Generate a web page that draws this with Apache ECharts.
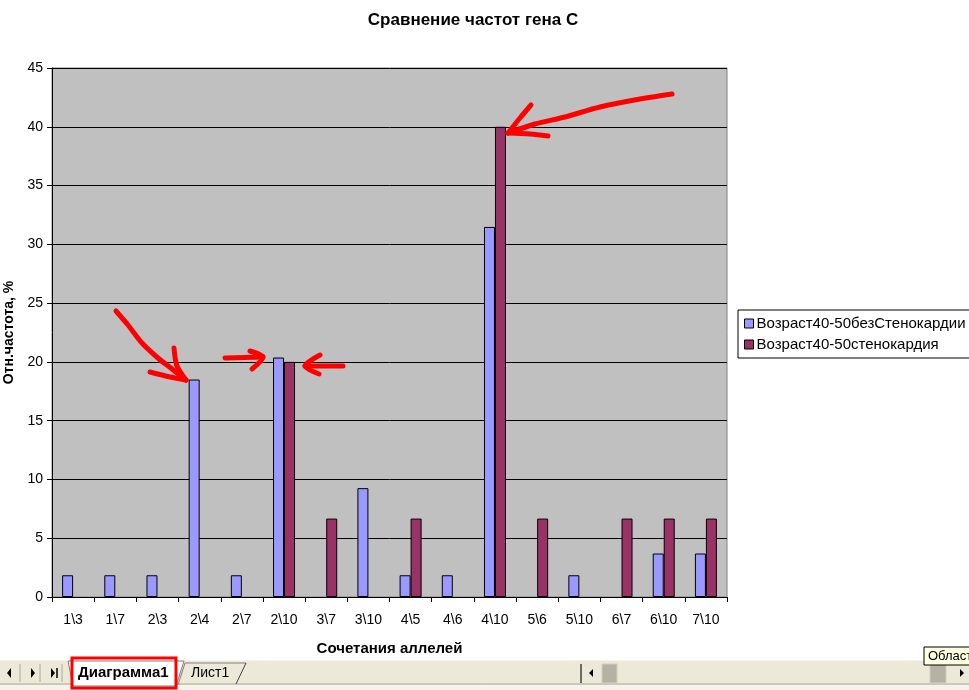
<!DOCTYPE html>
<html>
<head>
<meta charset="utf-8">
<script src="https://cdn.jsdelivr.net/npm/echarts@6/dist/echarts.min.js"></script>
<style>html,body{margin:0;padding:0;background:#fff;}#c{width:969px;height:690px;}</style>
</head>
<body>
<div id="c"></div>
<script>
const categories = ['1\\3','1\\7','2\\3','2\\4','2\\7','2\\10','3\\7','3\\10','4\\5','4\\6','4\\10','5\\6','5\\10','6\\7','6\\10','7\\10'];
const seriesNames = ['Возраст40-50безСтенокардии', 'Возраст40-50стенокардия'];
const noAngina = [1.85, 1.85, 1.85, 18.5, 1.85, 20.37, 0, 9.26, 1.85, 1.85, 31.48, 0, 1.85, 0, 3.7, 3.7];
const angina   = [0, 0, 0, 0, 0, 20, 6.67, 0, 6.67, 0, 40, 6.67, 0, 6.67, 6.67, 6.67];
const yTicks = {min: 0, max: 45, interval: 5};

const FONT = '"Liberation Sans", Arial, sans-serif';
const chart = echarts.init(document.getElementById('c'));

// zero-height bars are not drawn in the original (no outline)
const hideZero = arr => arr.map(v => v === 0 ? null : v);

function stroke(points) {
  return {type: 'polyline', shape: {points: points, smooth: 0.3},
    style: {stroke: '#ff0000', lineWidth: 5, fill: null, lineCap: 'round', lineJoin: 'round'}, z: 100};
}

chart.setOption({
  backgroundColor: '#ffffff',
  animation: false,
  title: {
    text: 'Сравнение частот гена С',
    left: 468, top: 7, textAlign: 'center',
    textStyle: {fontFamily: FONT, fontSize: 17, fontWeight: 'bold', color: '#000'}
  },
  legend: {
    orient: 'vertical', left: 738, top: 310,
    data: seriesNames,
    itemWidth: 9, itemHeight: 9, itemGap: 6,
    icon: 'rect',
    borderColor: '#000', borderWidth: 1, borderRadius: 0,
    padding: [6, 4, 6, 6],
    backgroundColor: '#fff',
    textStyle: {fontFamily: FONT, fontSize: 15, color: '#000', padding: [0, 0, 0, -2]},
    itemStyle: {borderColor: '#000', borderWidth: 1}
  },
  grid: {
    left: 52, right: 242, top: 68, bottom: 93,
    outerBoundsMode: 'none', containLabel: false,
    show: true, backgroundColor: '#c0c0c0', borderColor: '#808080', borderWidth: 1
  },
  xAxis: {
    type: 'category', data: categories,
    name: 'Сочетания аллелей', nameLocation: 'middle', nameGap: 44,
    nameTextStyle: {fontFamily: FONT, fontSize: 15, fontWeight: 'bold', color: '#000'},
    axisLine: {lineStyle: {color: '#000', width: 1}},
    axisTick: {show: true, alignWithLabel: false, length: 5, lineStyle: {color: '#000'}},
    axisLabel: {fontFamily: FONT, fontSize: 14, color: '#000', margin: 16, interval: 0}
  },
  yAxis: {
    type: 'value', min: yTicks.min, max: yTicks.max, interval: yTicks.interval,
    name: 'Отн.частота, %', nameLocation: 'middle', nameGap: 34, nameRotate: 90,
    nameTextStyle: {fontFamily: FONT, fontSize: 14, fontWeight: 'bold', color: '#000'},
    axisLine: {show: true, lineStyle: {color: '#000', width: 1}},
    axisTick: {show: true, length: 5, lineStyle: {color: '#000'}},
    axisLabel: {fontFamily: FONT, fontSize: 14, color: '#000', margin: 9},
    splitLine: {show: true, lineStyle: {color: '#000', width: 1}}
  },
  series: [
    {name: seriesNames[0], type: 'bar', data: hideZero(noAngina), barWidth: 11, barGap: '0%',
      itemStyle: {color: '#9999ff', borderColor: '#000', borderWidth: 1}},
    {name: seriesNames[1], type: 'bar', data: hideZero(angina), barWidth: 11, barGap: '0%',
      itemStyle: {color: '#993366', borderColor: '#000', borderWidth: 1}}
  ],
  graphic: [
    // hand-drawn red annotations
    stroke([[116,311],[128,325],[142,343],[158,358],[172,369],[186,380]]),
    stroke([[174,348],[177,366],[186,380]]),
    stroke([[150,372],[170,377],[186,380]]),
    stroke([[225,358],[263,357]]),
    stroke([[250,351],[263,357],[252,369]]),
    stroke([[343,366],[305,366]]),
    stroke([[320,355],[305,366],[319,374]]),
    stroke([[672,94],[640,99],[600,107],[565,117],[535,124],[508,133]]),
    stroke([[531,105],[520,118],[508,133]]),
    stroke([[548,136],[530,134],[508,133]]),
    // Excel sheet tab bar
    {type: 'rect', shape: {x: 0, y: 660, width: 969, height: 30}, style: {fill: '#ece9d8'}, z: 50},
    {type: 'line', shape: {x1: 0, y1: 660, x2: 969, y2: 660}, style: {stroke: '#ffffff', lineWidth: 1}, z: 51},
    {type: 'line', shape: {x1: 0, y1: 684, x2: 969, y2: 684}, style: {stroke: '#aca899', lineWidth: 1}, z: 51},
    {type: 'rect', shape: {x: 0, y: 685, width: 969, height: 5}, style: {fill: '#f5f3ea'}, z: 51},
    {type: 'polygon', shape: {points: [[11,668],[11,678],[7,673]]}, style: {fill: '#000'}, z: 52},
    {type: 'polygon', shape: {points: [[31,668],[31,678],[35,673]]}, style: {fill: '#000'}, z: 52},
    {type: 'polygon', shape: {points: [[51,668],[51,678],[55,673]]}, style: {fill: '#000'}, z: 52},
    {type: 'line', shape: {x1: 57, y1: 668, x2: 57, y2: 678}, style: {stroke: '#000', lineWidth: 1.5}, z: 52},
    {type: 'line', shape: {x1: 20, y1: 664, x2: 20, y2: 682}, style: {stroke: '#aca899', lineWidth: 1}, z: 52},
    {type: 'line', shape: {x1: 40, y1: 664, x2: 40, y2: 682}, style: {stroke: '#aca899', lineWidth: 1}, z: 52},
    {type: 'line', shape: {x1: 62, y1: 664, x2: 62, y2: 682}, style: {stroke: '#aca899', lineWidth: 1}, z: 52},
    {type: 'polygon', shape: {points: [[68,661],[73,686],[176,686],[184,661]]}, style: {fill: '#ffffff', stroke: '#808080', lineWidth: 1}, z: 52},
    {type: 'text', x: 78, y: 665, style: {text: 'Диаграмма1', font: 'bold 15px ' + FONT, fill: '#000'}, z: 53},
    {type: 'polyline', shape: {points: [[178,685],[185,663],[246,663]]}, style: {stroke: '#808080', fill: null, lineWidth: 1}, z: 52},
    {type: 'line', shape: {x1: 236, y1: 684, x2: 246, y2: 663}, style: {stroke: '#404040', lineWidth: 1}, z: 52},
    {type: 'text', x: 191, y: 666, style: {text: 'Лист1', font: '14px ' + FONT, fill: '#000'}, z: 53},
    {type: 'rect', shape: {x: 72, y: 658, width: 104, height: 30}, style: {fill: null, stroke: '#ff0000', lineWidth: 3}, z: 60},
    {type: 'line', shape: {x1: 581, y1: 664, x2: 581, y2: 683}, style: {stroke: '#404040', lineWidth: 1.5}, z: 52},
    {type: 'polygon', shape: {points: [[593,669],[593,677],[589,673]]}, style: {fill: '#000'}, z: 52},
    {type: 'rect', shape: {x: 602, y: 664, width: 15, height: 19}, style: {fill: '#b5b2a5', stroke: '#d0cdc0'}, z: 52},
    {type: 'rect', shape: {x: 930, y: 664, width: 16, height: 19}, style: {fill: '#b5b2a5', stroke: '#d0cdc0'}, z: 52},
    {type: 'polygon', shape: {points: [[960,669],[960,677],[964,673]]}, style: {fill: '#000'}, z: 52},
    {type: 'rect', shape: {x: 924, y: 647, width: 50, height: 18}, style: {fill: '#ffffe1', stroke: '#000', lineWidth: 1}, z: 55},
    {type: 'text', x: 928, y: 650, style: {text: 'Област', font: '13px ' + FONT, fill: '#000'}, z: 56}
  ]
});
</script>
</body>
</html>
